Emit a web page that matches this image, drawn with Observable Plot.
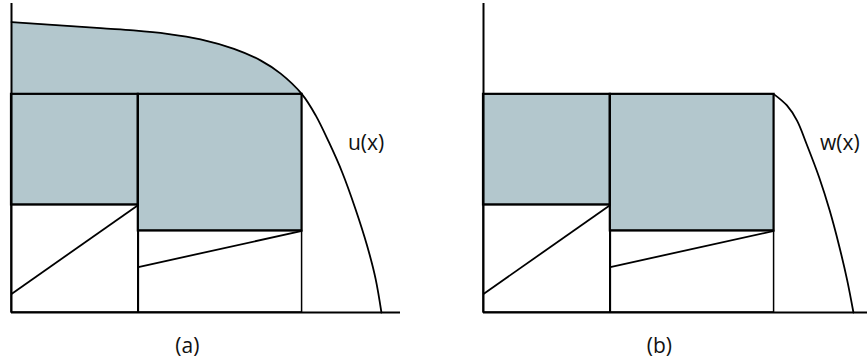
<!DOCTYPE html>
<html>
<head>
<meta charset="utf-8">
<script src="https://cdn.jsdelivr.net/npm/d3@7"></script>
<script src="https://cdn.jsdelivr.net/npm/@observablehq/plot@0.6"></script>
<style>
  html, body { margin: 0; padding: 0; background: #fff; }
  #wrap { display: flex; width: 868px; height: 360px; }
  svg { display: block; }
</style>
</head>
<body>
<div id="wrap"></div>
<script>
// ---- data (diagram units: x 0..100, y 0..100) ----
const uX = [0, 22.9, 31.4, 40.0, 48.6, 57.2, 64.0, 69.2, 74.7, 78.2, 81.6, 85.0, 88.4, 91.4, 93.6, 95.1];
const uY = [94.0, 92.0, 91.3, 90.2, 88.4, 85.3, 81.6, 77.3, 70.6, 63.8, 55.1, 45.4, 33.6, 21.7, 10.9, 0];
const wX = [74.7, 78.0, 80.6, 83.0, 86.3, 89.0, 91.4, 93.5, 95.1];
const wY = [70.6, 67.0, 62.1, 54.7, 43.7, 33.0, 21.7, 10.4, 0];

const blockEdges = [0, 32.6, 74.7];      // x boundaries of the two blocks
const blockTop = 70.6;                   // common top level
const blockBottom = [34.8, 26.4];        // bottom of the shaded part of each block
const rampStart = [6.0, 14.7];           // left end of each ramp line

const curveLabels = ["u(x)", "w(x)"];
const panelLabels = ["(a)", "(b)"];
const labelPos = {x: 86.5, y: 54.8};
const panelLabelPos = {x: 45.2, y: -11};

const fillColor = "#b3c7cd";
const font = "'Open Sans', 'Noto Sans', sans-serif";

const blocks = blockEdges.slice(0, -1).map((x1, i) => ({
  x1, x2: blockEdges[i + 1], top: blockTop, bottom: blockBottom[i], ramp: rampStart[i]
}));

function panel(idx, curveX, curveY, withTopArea, marginLeft, marginRight) {
  const curve = curveX.map((x, i) => ({x, y: curveY[i]}));
  const inner = 434 - marginLeft - marginRight;
  const xMax = inner / 3.89;
  const marks = [];
  if (withTopArea) {
    marks.push(Plot.areaY(curve.filter(d => d.x <= blockEdges[2]), {
      x: "x", y1: blockTop, y2: "y", fill: fillColor, curve: "catmull-rom"
    }));
  }
  marks.push(
    Plot.rect(blocks, {x1: "x1", x2: "x2", y1: "bottom", y2: "top", fill: fillColor}),
    Plot.rect(blocks, {x1: "x1", x2: "x2", y1: 0, y2: "bottom", fill: "none", stroke: "#000", strokeWidth: 1.5}),
    Plot.rect(blocks, {x1: "x1", x2: "x2", y1: "bottom", y2: "top", fill: "none", stroke: "#000", strokeWidth: 2.2}),
    Plot.link(blocks, {x1: "x1", y1: "ramp", x2: "x2", y2: "bottom", stroke: "#000", strokeWidth: 1.8}),
    Plot.ruleX(blocks.slice(1), {x: "x1", y1: 0, y2: "bottom", stroke: "#000", strokeWidth: 1.6}),
    Plot.line(curve, {x: "x", y: "y", stroke: "#000", strokeWidth: 1.8, curve: "catmull-rom"}),
    Plot.ruleX([0], {y1: 0, y2: 100, stroke: "#000", strokeWidth: 2}),
    Plot.ruleY([0], {x1: 0, x2: xMax, stroke: "#000", strokeWidth: 2.2}),
    Plot.text([curveLabels[idx]], {x: labelPos.x, y: labelPos.y, text: d => d, textAnchor: "start",
      fontSize: 21, fill: "#111", fontFamily: font}),
    Plot.text([panelLabels[idx]], {x: panelLabelPos.x, y: panelLabelPos.y, text: d => d,
      fontSize: 21, fill: "#111", fontFamily: font, clip: false})
  );
  return Plot.plot({
    width: 434, height: 360,
    marginLeft, marginRight, marginTop: 3, marginBottom: 48,
    x: {domain: [0, xMax], axis: null},
    y: {domain: [0, 100], axis: null},
    style: {background: "#fff", overflow: "visible"},
    marks
  });
}

const wrap = document.getElementById("wrap");
wrap.append(panel(0, uX, uY, true, 11, 34));
wrap.append(panel(1, wX, wY, false, 49, 1));
</script>
</body>
</html>
